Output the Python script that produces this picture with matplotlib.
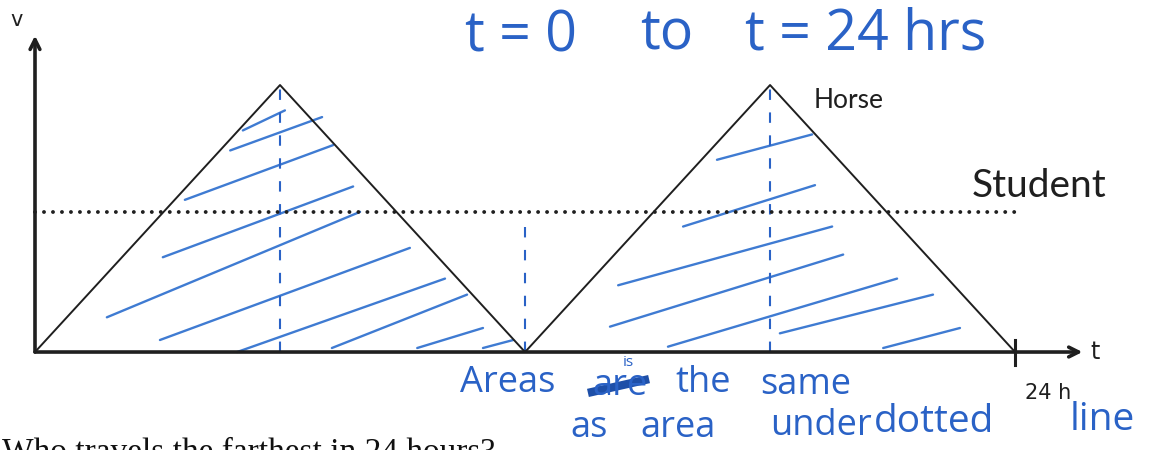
import matplotlib
matplotlib.use("Agg")
import matplotlib.pyplot as plt

# horse speed: rises to a peak and back to rest twice in 24 h
horse_t = [0, 6, 12, 18, 24]
horse_v = [0, 2, 0, 2, 0]
student_v = 1.05
t_end = 24

# dashed guides dropped from the peaks / midpoint
guide_t = [6, 12, 18]
guide_top = [2, 1.0, 2]

# hand-drawn shading strokes (start t, start v, end t, end v)
hatch_t0 = [5.09, 4.78, 3.67, 3.13, 1.76, 3.06, 4.95, 7.27, 9.36, 10.97,
            16.70, 15.87, 14.28, 14.08, 15.50, 18.24, 20.77]
hatch_v0 = [1.66, 1.51, 1.14, 0.71, 0.26, 0.09, 0.00, 0.03, 0.03, 0.03,
            1.44, 0.94, 0.50, 0.19, 0.04, 0.14, 0.03]
hatch_t1 = [6.12, 7.03, 7.30, 7.79, 7.96, 9.18, 10.04, 10.58, 10.97, 11.71,
            19.03, 19.10, 19.52, 19.79, 21.11, 21.99, 22.65]
hatch_v1 = [1.81, 1.76, 1.55, 1.24, 1.05, 0.78, 0.55, 0.43, 0.18, 0.09,
            1.63, 1.25, 0.94, 0.73, 0.55, 0.43, 0.18]

INK = "#1f1f1f"
PEN = "#2a62c6"
HATCH = "#3f7bd2"

W, H = 1167, 450
fig = plt.figure(figsize=(W / 100, H / 100), dpi=100)
ax = fig.add_axes([0, 0, 1, 1])
ax.set_xlim(-0.857, 27.72)
ax.set_ylim(-0.734, 2.637)
ax.axis("off")


def px(x, y):
    return x / W, 1 - y / H


# shading
for a, b, c, d in zip(hatch_t0, hatch_v0, hatch_t1, hatch_v1):
    ax.plot([a, c], [b, d], color=HATCH, lw=1.7, solid_capstyle="round", zorder=2)

# dashed guides
for t, top in zip(guide_t, guide_top):
    ax.plot([t, t], [0, top], color=PEN, lw=1.5, ls=(0, (5, 6)), zorder=2)

# horse curve
ax.plot(horse_t, horse_v, color=INK, lw=1.4, zorder=3)

# student: constant speed
ax.plot([0, t_end], [student_v, student_v], color=INK, lw=2.8,
        ls=(0, (0.01, 2.3)), dash_capstyle="round", zorder=3)

# axes with arrow heads
arrow = dict(arrowstyle="->,head_length=0.7,head_width=0.35", color=INK, lw=2.6,
             shrinkA=0, shrinkB=0)
ax.annotate("", xy=(25.65, 0), xytext=(0, 0), arrowprops=arrow, zorder=4)
ax.annotate("", xy=(0, 2.37), xytext=(0, 0), arrowprops=arrow, zorder=4)
ax.plot([t_end, t_end], [-0.1, 0.09], color=INK, lw=2.2, zorder=4)

ax.text(-0.44, 2.49, "v", fontsize=15, color=INK, ha="center", va="center",
        family="DejaVu Sans")
ax.text(25.85, 0.0, "t", fontsize=17, color=INK, ha="left", va="center",
        family="DejaVu Sans")
ax.text(24.25, -0.31, "24 h", fontsize=15, color=INK, ha="left", va="center",
        family="DejaVu Sans")

# handwritten labels
fig.text(*px(814, 101), "Horse", fontsize=19, color=INK, ha="left", va="center",
         family="Lato")
fig.text(*px(972, 186), "Student", fontsize=28, color=INK, ha="left", va="center",
         family="Lato")

# blue notes
top_kw = dict(fontsize=40, color=PEN, va="center", family="Open Sans")
fig.text(*px(465, 37), "t = 0", ha="left", **top_kw)
fig.text(*px(640, 35), "to", ha="left", **top_kw)
fig.text(*px(745, 35), "t = 24 hrs", ha="left", **top_kw)

note_kw = dict(fontsize=26, color=PEN, va="center", family="Open Sans")
fig.text(*px(460, 383), "Areas", ha="left", **note_kw)
fig.text(*px(592, 386), "are", ha="left", **note_kw)
fig.text(*px(628, 362), "is", ha="center", fontsize=11, color=PEN, va="center",
         family="Open Sans")
fig.text(*px(675, 383), "the", ha="left", **note_kw)
fig.text(*px(760, 385), "same", ha="left", **note_kw)

line2_kw = dict(fontsize=26, color=PEN, va="center", family="Open Sans")
fig.text(*px(570, 428), "as", ha="left", **line2_kw)
fig.text(*px(640, 428), "area", ha="left", **line2_kw)
fig.text(*px(770, 426), "under", ha="left", **line2_kw)
fig.text(*px(874, 422), "dotted", ha="left", fontsize=28, color=PEN, va="center",
         family="Open Sans")
fig.text(*px(1070, 420), "line", ha="left", fontsize=28, color=PEN, va="center",
         family="Open Sans")
# scribble over the crossed-out word
fig.lines.append(plt.Line2D([592 / W, 645 / W], [1 - 392 / H, 1 - 380 / H],
                            transform=fig.transFigure, color="#1e4fa8", lw=6))

# question text below the figure, cut off by the page edge
fig.text(*px(2, 437), "Who travels the farthest in 24 hours?", fontsize=24,
         color="#111111", ha="left", va="top", family="Liberation Serif")

fig.savefig("out.png", dpi=100, facecolor="white")
